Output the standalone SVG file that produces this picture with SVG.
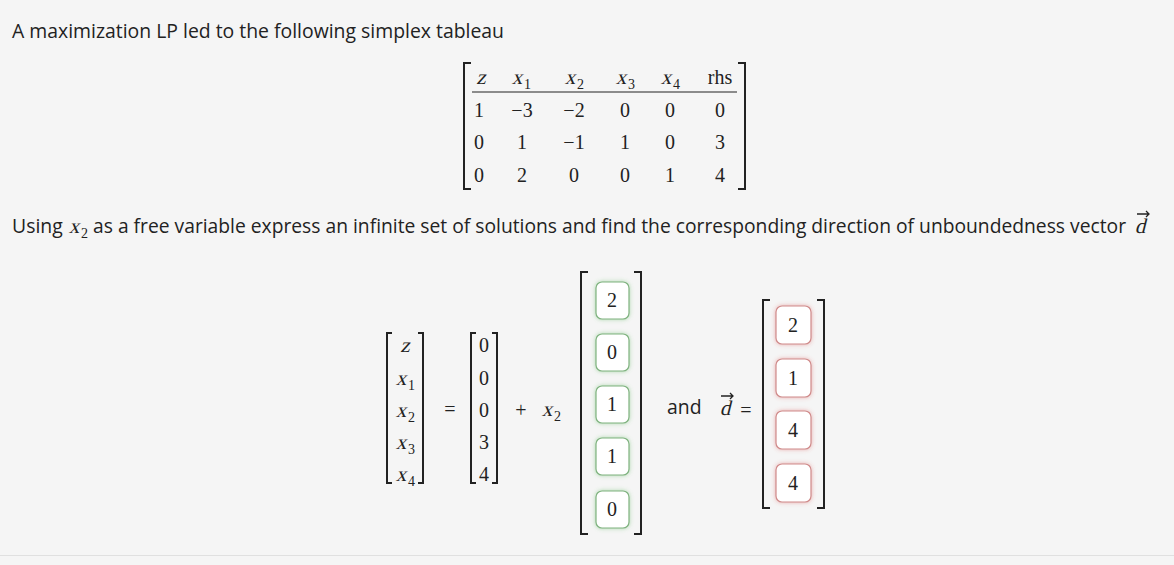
<svg xmlns="http://www.w3.org/2000/svg" width="1174" height="565" viewBox="0 0 1174 565">
<defs>
<filter id="gg" x="-30%" y="-30%" width="160%" height="160%"><feFlood flood-color="#5cb85c" flood-opacity="0.5"/><feComposite operator="in" in2="SourceAlpha"/><feGaussianBlur stdDeviation="2"/><feMerge><feMergeNode/><feMergeNode in="SourceGraphic"/></feMerge></filter>
<filter id="rg" x="-30%" y="-30%" width="160%" height="160%"><feFlood flood-color="#d9534f" flood-opacity="0.45"/><feComposite operator="in" in2="SourceAlpha"/><feGaussianBlur stdDeviation="2"/><feMerge><feMergeNode/><feMergeNode in="SourceGraphic"/></feMerge></filter>
</defs>
<style>
.s{font-family:"Open Sans","Noto Sans",sans-serif;font-size:19.4px;fill:#222}
.m{font-family:"Liberation Serif","DejaVu Serif",serif;font-size:20px;fill:#222;text-anchor:middle}
.v{font-family:"Liberation Serif","DejaVu Serif",serif;font-size:21px;fill:#222;text-anchor:middle}
.b{font-family:"Liberation Serif","DejaVu Serif",serif;font-size:14px;fill:#222}
.br{fill:none;stroke:#222;stroke-width:2}
.gb{fill:#fff;stroke:#7fb27f;stroke-width:1.2;filter:url(#gg)}
.rb{fill:#fff;stroke:#cf8a8a;stroke-width:1.2;filter:url(#rg)}
</style>
<rect width="1174" height="565" fill="#f5f5f5"/>
<line x1="0" y1="555.5" x2="1174" y2="555.5" stroke="#e0e0e0"/>
<text class="s" x="12" y="38">A maximization LP led to the following simplex tableau</text>

<g id="tableau">
<path class="br" d="M471,63 H464 V189 H471 M738,63 H745 V189 H738"/>
<line x1="472" y1="92" x2="737" y2="92" stroke="#222" stroke-width="1.2"/>
<text class="v" transform="translate(481,84) skewX(-14)">z</text>
<text class="v" transform="translate(517,84) skewX(-14)">x</text><text class="b" x="524" y="89">1</text>
<text class="v" transform="translate(570,84) skewX(-14)">x</text><text class="b" x="577" y="89">2</text>
<text class="v" transform="translate(621,84) skewX(-14)">x</text><text class="b" x="628" y="89">3</text>
<text class="v" transform="translate(666,84) skewX(-14)">x</text><text class="b" x="673" y="89">4</text>
<text class="m" x="720" y="84">rhs</text>
<text class="m" x="479" y="117">1</text><text class="m" x="522" y="117">−3</text><text class="m" x="574" y="117">−2</text><text class="m" x="625" y="117">0</text><text class="m" x="670" y="117">0</text><text class="m" x="720" y="117">0</text>
<text class="m" x="479" y="149">0</text><text class="m" x="522" y="149">1</text><text class="m" x="574" y="149">−1</text><text class="m" x="625" y="149">1</text><text class="m" x="670" y="149">0</text><text class="m" x="720" y="149">3</text>
<text class="m" x="479" y="182">0</text><text class="m" x="522" y="182">2</text><text class="m" x="574" y="182">0</text><text class="m" x="625" y="182">0</text><text class="m" x="670" y="182">1</text><text class="m" x="720" y="182">4</text>
</g>

<text class="s" x="12" y="233">Using</text>
<text class="v" transform="translate(74,233) skewX(-14)">x</text><text class="b" x="81" y="238">2</text>
<text class="s" x="93" y="233" textLength="1033" lengthAdjust="spacingAndGlyphs">as a free variable express an infinite set of solutions and find the corresponding direction of unboundedness vector</text>
<text class="v" transform="translate(1140,233) skewX(-14)">d</text>
<path d="M1137,214 H1149 M1146,211 L1149,214 L1146,217" fill="none" stroke="#222" stroke-width="1.3"/>

<g id="lhs">
<path class="br" d="M392,333 H387 V483 H392 M418,333 H423 V483 H418"/>
<text class="v" transform="translate(405,352) skewX(-14)">z</text>
<text class="v" transform="translate(401,385) skewX(-14)">x</text><text class="b" x="408" y="390">1</text>
<text class="v" transform="translate(401,417) skewX(-14)">x</text><text class="b" x="408" y="422">2</text>
<text class="v" transform="translate(401,449) skewX(-14)">x</text><text class="b" x="408" y="454">3</text>
<text class="v" transform="translate(401,481) skewX(-14)">x</text><text class="b" x="408" y="486">4</text>
</g>
<text class="m" x="450" y="416" font-size="24">=</text>
<g id="base">
<path class="br" d="M476,333 H471 V483 H476 M492,333 H497 V483 H492"/>
<text class="m" x="484" y="352">0</text><text class="m" x="484" y="385">0</text><text class="m" x="484" y="417">0</text><text class="m" x="484" y="449">3</text><text class="m" x="484" y="481">4</text>
</g>
<text class="m" x="521" y="417" font-size="24">+</text>
<text class="v" transform="translate(547,416) skewX(-14)">x</text><text class="b" x="554" y="421">2</text>

<g id="green">
<path class="br" d="M588,272 H581 V534 H588 M634,272 H641 V534 H634"/>
<rect class="gb" x="596" y="282" width="33" height="37" rx="6"/>
<rect class="gb" x="596" y="334" width="33" height="37" rx="6"/>
<rect class="gb" x="596" y="386" width="33" height="37" rx="6"/>
<rect class="gb" x="596" y="438" width="33" height="37" rx="6"/>
<rect class="gb" x="596" y="491" width="33" height="37" rx="6"/>
<text class="m" x="612" y="307">2</text><text class="m" x="612" y="359">0</text><text class="m" x="612" y="411">1</text><text class="m" x="612" y="463">1</text><text class="m" x="612" y="516">0</text>
</g>

<text class="s" x="667" y="414">and</text>
<text class="v" transform="translate(725,415) skewX(-14)">d</text>
<path d="M721,396 H733 M730,393 L733,396 L730,399" fill="none" stroke="#222" stroke-width="1.3"/>
<text class="m" x="746" y="417" font-size="24">=</text>

<g id="red">
<path class="br" d="M770,300 H763 V508 H770 M817,300 H824 V508 H817"/>
<rect class="rb" x="776" y="306" width="35" height="38" rx="6"/>
<rect class="rb" x="776" y="359" width="35" height="38" rx="6"/>
<rect class="rb" x="776" y="411" width="35" height="38" rx="6"/>
<rect class="rb" x="776" y="464" width="35" height="38" rx="6"/>
<text class="m" x="793" y="332">2</text><text class="m" x="793" y="385">1</text><text class="m" x="793" y="437">4</text><text class="m" x="793" y="490">4</text>
</g>
</svg>
